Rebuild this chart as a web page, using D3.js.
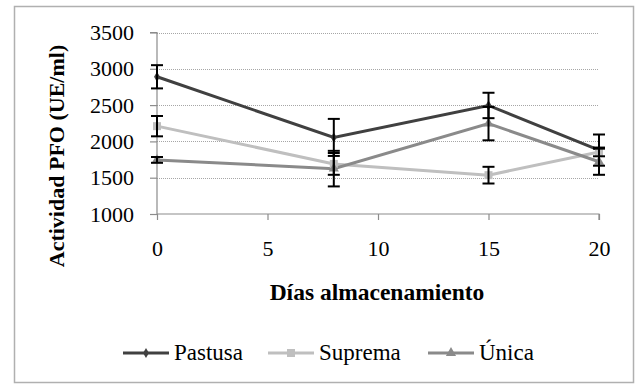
<!DOCTYPE html>
<html>
<head>
<meta charset="utf-8">
<script src="https://cdn.jsdelivr.net/npm/d3@7"></script>
<style>
  body { margin: 0; background: #fff; }
</style>
</head>
<body>
<script>
// data
var days = [0, 8, 15, 20];
var pastusa = [2890, 2055, 2495, 1880];
var pastusaErr = [160, 255, 175, 215];
var suprema = [2210, 1690, 1535, 1855];
var supremaErr = [140, 150, 115, 60];
var unica = [1745, 1625, 2245, 1720];
var unicaErr = [40, 245, 230, 180];
var yTicks = [1000, 1500, 2000, 2500, 3000, 3500];
var xTicks = [0, 5, 10, 15, 20];

var FONT = "'Liberation Serif', 'DejaVu Serif', serif";

var series = [
  { name: "Pastusa", values: pastusa, err: pastusaErr, color: "#404040", marker: "diamond" },
  { name: "Suprema", values: suprema, err: supremaErr, color: "#bfbfbf", marker: "square" },
  { name: "Única", values: unica, err: unicaErr, color: "#8a8a8a", marker: "triangle" }
];

var svg = d3.select("body").append("svg")
    .attr("width", 636)
    .attr("height", 386)
    .attr("font-family", FONT);

// frame
svg.append("rect")
    .attr("x", 14.5).attr("y", 6.5)
    .attr("width", 619).attr("height", 376)
    .attr("fill", "#fff")
    .attr("stroke", "#b0b0b0")
    .attr("stroke-width", 1.5);

var x = d3.scaleLinear().domain([0, 20]).range([157, 599]);
var y = d3.scaleLinear().domain([1000, 3500]).range([214, 32.5]);

// gridlines
svg.append("g").selectAll("line")
    .data(yTicks.slice(1))
    .enter().append("line")
    .attr("x1", x(0)).attr("x2", x(20))
    .attr("y1", function(d) { return Math.round(y(d)) + 0.5; })
    .attr("y2", function(d) { return Math.round(y(d)) + 0.5; })
    .attr("stroke", "#a6a6a6")
    .attr("stroke-width", 1)
    .attr("stroke-dasharray", "1,1");

// axes
var yAxis = svg.append("g")
    .attr("transform", "translate(" + x(0) + ",0)")
    .call(d3.axisLeft(y).tickValues(yTicks).tickSize(7).tickPadding(16).tickFormat(d3.format("d")));
var xAxis = svg.append("g")
    .attr("transform", "translate(0," + y(1000) + ")")
    .call(d3.axisBottom(x).tickValues(xTicks).tickSize(6).tickPadding(20));

[yAxis, xAxis].forEach(function(a) {
  a.attr("font-family", FONT).attr("font-size", 22);
  a.select(".domain").attr("stroke", "#8c8c8c").attr("stroke-width", 1.2);
  a.selectAll(".tick line").attr("stroke", "#8c8c8c").attr("stroke-width", 1.2);
  a.selectAll("text").attr("fill", "#000");
});
yAxis.select(".domain").attr("d", "M0," + y(1000) + "V" + y(3500) + "H-7");
xAxis.select(".domain").attr("d", "M" + x(0) + ",0H" + x(20) + "V6");

// lines
var line = d3.line()
    .x(function(d, i) { return x(days[i]); })
    .y(function(d) { return y(d); });

series.forEach(function(s) {
  svg.append("path")
      .attr("d", line(s.values))
      .attr("fill", "none")
      .attr("stroke", s.color)
      .attr("stroke-width", 3);
});

function drawMarker(g, type, cx, cy, color) {
  if (type === "diamond") {
    g.append("path")
        .attr("d", d3.symbol().type(d3.symbolDiamond).size(30)())
        .attr("transform", "translate(" + cx + "," + cy + ")")
        .attr("fill", color);
  } else if (type === "square") {
    g.append("rect")
        .attr("x", cx - 4).attr("y", cy - 4)
        .attr("width", 8).attr("height", 8)
        .attr("fill", color);
  } else {
    g.append("path")
        .attr("d", d3.symbol().type(d3.symbolTriangle).size(45)())
        .attr("transform", "translate(" + cx + "," + cy + ")")
        .attr("fill", color);
  }
}

// markers
series.forEach(function(s) {
  var g = svg.append("g");
  s.values.forEach(function(v, i) {
    drawMarker(g, s.marker, x(days[i]), y(v), s.color);
  });
});

// error bars
series.forEach(function(s) {
  var g = svg.append("g").attr("stroke", "#000").attr("stroke-width", 2);
  s.values.forEach(function(v, i) {
    var cx = x(days[i]);
    var top = y(v + s.err[i]), bot = y(v - s.err[i]);
    g.append("line").attr("x1", cx).attr("x2", cx).attr("y1", top).attr("y2", bot);
    g.append("line").attr("x1", cx - 6).attr("x2", cx + 6).attr("y1", top).attr("y2", top);
    g.append("line").attr("x1", cx - 6).attr("x2", cx + 6).attr("y1", bot).attr("y2", bot);
  });
});

// axis titles
svg.append("text")
    .attr("x", 377).attr("y", 300)
    .attr("text-anchor", "middle")
    .attr("font-size", 23.5)
    .attr("font-weight", "bold")
    .text("Días almacenamiento");

svg.append("text")
    .attr("transform", "translate(64,156) rotate(-90)")
    .attr("text-anchor", "middle")
    .attr("font-size", 22)
    .attr("font-weight", "bold")
    .text("Actividad PFO (UE/ml)");

// legend
var legendX = [123, 268, 428];
series.forEach(function(s, i) {
  var g = svg.append("g").attr("transform", "translate(" + legendX[i] + ",353)");
  g.append("line")
      .attr("x1", 0).attr("x2", 46)
      .attr("stroke", s.color).attr("stroke-width", 3);
  drawMarker(g, s.marker, 23, 0, s.color);
  g.append("text")
      .attr("x", 51).attr("y", 7)
      .attr("font-size", 23)
      .text(s.name);
});
</script>
</body>
</html>
